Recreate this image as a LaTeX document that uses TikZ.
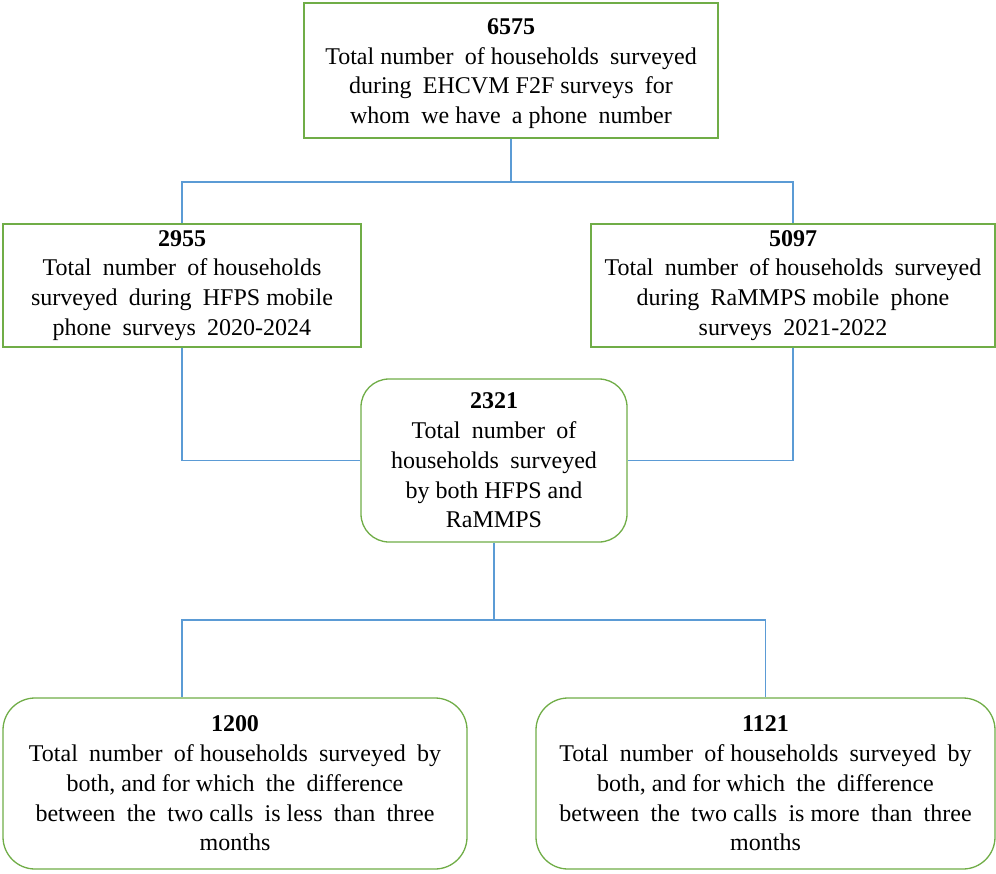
\documentclass[tikz,border=0pt]{standalone}
\usepackage{fontspec}
\setmainfont{Liberation Serif}
\newfontfamily\tnr{Liberation Serif}
\newcommand{\xs}{\hspace{0.22em}}
\definecolor{boxgreen}{RGB}{112,173,71}
\definecolor{lineblue}{RGB}{91,155,213}
\begin{document}
\begin{tikzpicture}[x=1pt,y=-1pt,
  box/.style={draw=boxgreen,line width=1.3pt,fill=white,align=center,inner sep=0pt,
    font=\tnr\fontsize{24}{29.8}\selectfont},
  rbox/.style={box,rounded corners=28pt},
  conn/.style={draw=lineblue,line width=1.3pt}]
\useasboundingbox (0,0) rectangle (996,873);
\node[box,minimum width=414pt,minimum height=135pt] (top) at (511,70.5)
  {\rule{0pt}{22pt}\textbf{6575}\\Total number\xs{} of households\xs{} surveyed\\during\xs{} EHCVM F2F surveys\xs{} for\\whom\xs{} we have\xs{} a phone\xs{} number};
\node[box,minimum width=358pt,minimum height=123pt] (left) at (182,285.5)
  {\textbf{2955}\\Total\xs{} number\xs{} of households\\surveyed\xs{} during\xs{} HFPS mobile\\phone\xs{} surveys\xs{} 2020-2024};
\node[box,minimum width=404pt,minimum height=123pt] (right) at (793,285.5)
  {\textbf{5097}\\Total\xs{} number\xs{} of households\xs{} surveyed\\during\xs{} RaMMPS mobile\xs{} phone\\surveys\xs{} 2021-2022};
\node[rbox,minimum width=266pt,minimum height=163pt] (mid) at (494,460.5)
  {\textbf{2321}\\Total\xs{} number\xs{} of\\households\xs{} surveyed\\by both HFPS and\\RaMMPS};
\node[rbox,minimum width=464pt,minimum height=171pt,rounded corners=32pt] (bl) at (235,783.5)
  {\textbf{1200}\\Total\xs{} number\xs{} of households\xs{} surveyed\xs{} by\\both, and for which\xs{} the\xs{} difference\\between\xs{} the\xs{} two calls\xs{} is less\xs{} than\xs{} three\\months};
\node[rbox,minimum width=459pt,minimum height=171pt,rounded corners=32pt] (br) at (765.5,783.5)
  {\textbf{1121}\\Total\xs{} number\xs{} of households\xs{} surveyed\xs{} by\\both, and for which\xs{} the\xs{} difference\\between\xs{} the\xs{} two calls\xs{} is more\xs{} than\xs{} three\\months};
\coordinate (j1) at (511,182);
\coordinate (j2) at (494,620);
\coordinate (blin) at (left.south |- bl.north);
\draw[conn] (top.south) -- (j1);
\draw[conn] (j1) -| (left.north);
\draw[conn] (j1) -| (right.north);
\draw[conn] (left.south) |- (mid.west);
\draw[conn] (right.south) |- (mid.east);
\draw[conn] (mid.south) -- (j2);
\draw[conn] (j2) -| (blin);
\draw[conn] (j2) -| (br.north);
\end{tikzpicture}
\end{document}
